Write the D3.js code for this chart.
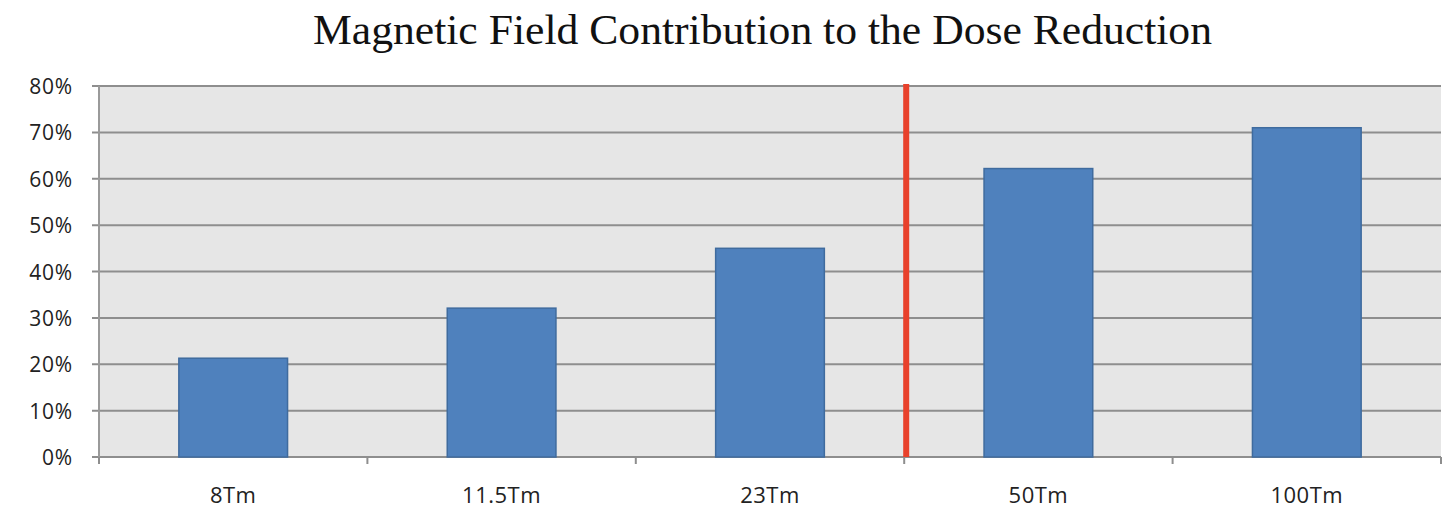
<!DOCTYPE html>
<html>
<head>
<meta charset="utf-8">
<script src="https://cdn.jsdelivr.net/npm/d3@7"></script>
<style>
  html, body { margin: 0; padding: 0; background: #fff; }
  svg { display: block; }
</style>
</head>
<body>
<svg id="chart" width="1450" height="509"></svg>
<script>
const categories = ["8Tm", "11.5Tm", "23Tm", "50Tm", "100Tm"];
const values = [0.213, 0.321, 0.450, 0.622, 0.710];
const yTicks = [0, 0.1, 0.2, 0.3, 0.4, 0.5, 0.6, 0.7, 0.8];
const dividerAfter = "23Tm";
const title = "Magnetic Field Contribution to the Dose Reduction";

const svg = d3.select("#chart");
const plotLeft = 99, plotRight = 1441, plotTop = 86, plotBottom = 457;

const x = d3.scaleBand().domain(categories).range([plotLeft, plotRight]).paddingInner(0.595).paddingOuter(0.2975);
const band = (plotRight - plotLeft) / categories.length;
const y = d3.scaleLinear().domain([0, 0.8]).range([plotBottom, plotTop]);

// title
svg.append("text")
  .attr("x", 313).attr("y", 44)
  .attr("font-family", "Liberation Serif, Times New Roman, serif")
  .attr("font-size", 42)
  .attr("textLength", 899)
  .attr("lengthAdjust", "spacingAndGlyphs")
  .attr("fill", "#111")
  .text(title);

// plot background
svg.append("rect")
  .attr("x", plotLeft).attr("y", plotTop)
  .attr("width", plotRight - plotLeft).attr("height", plotBottom - plotTop)
  .attr("fill", "#e6e6e6");

// gridlines and y labels
const yAxis = svg.append("g");
yTicks.forEach(t => {
  yAxis.append("line")
    .attr("x1", plotLeft - 7).attr("x2", plotRight)
    .attr("y1", y(t)).attr("y2", y(t))
    .attr("stroke", "#8e8e8e").attr("stroke-width", 2);
  yAxis.append("text")
    .attr("x", 73).attr("y", y(t) + 8)
    .attr("text-anchor", "end")
    .attr("font-family", "Open Sans, Liberation Sans, sans-serif")
    .attr("font-size", 21)
    .attr("letter-spacing", 0.8)
    .attr("fill", "#222")
    .text(d3.format(".0%")(t));
});

// y axis line
svg.append("line")
  .attr("x1", plotLeft).attr("x2", plotLeft)
  .attr("y1", plotTop).attr("y2", plotBottom + 4)
  .attr("stroke", "#9a9a9a").attr("stroke-width", 2);

// category ticks
d3.range(categories.length + 1).forEach(i => {
  const xx = plotLeft + i * band;
  svg.append("line")
    .attr("x1", xx).attr("x2", xx)
    .attr("y1", plotBottom).attr("y2", plotBottom + 7)
    .attr("stroke", "#8e8e8e").attr("stroke-width", 2);
});

// bars
svg.selectAll("rect.bar")
  .data(categories)
  .join("rect")
  .attr("class", "bar")
  .attr("x", d => x(d))
  .attr("width", x.bandwidth())
  .attr("y", (d, i) => y(values[i]))
  .attr("height", (d, i) => plotBottom - y(values[i]))
  .attr("fill", "#4f81bd")
  .attr("stroke", "#3f6b9e")
  .attr("stroke-width", 1.5);

// category labels
svg.selectAll("text.cat")
  .data(categories)
  .join("text")
  .attr("class", "cat")
  .attr("x", d => x(d) + x.bandwidth() / 2)
  .attr("y", 503)
  .attr("text-anchor", "middle")
  .attr("font-family", "Open Sans, Liberation Sans, sans-serif")
  .attr("font-size", 22)
  .attr("letter-spacing", 0.5)
  .attr("fill", "#222")
  .text(d => d);

// divider between 23Tm and 50Tm
const divX = x(dividerAfter) + x.bandwidth() + x.step() * x.paddingInner() / 2 + 2;
svg.append("line")
  .attr("x1", divX).attr("x2", divX)
  .attr("y1", plotTop - 2).attr("y2", plotBottom)
  .attr("stroke", "#e8412b").attr("stroke-width", 6);
</script>
</body>
</html>
